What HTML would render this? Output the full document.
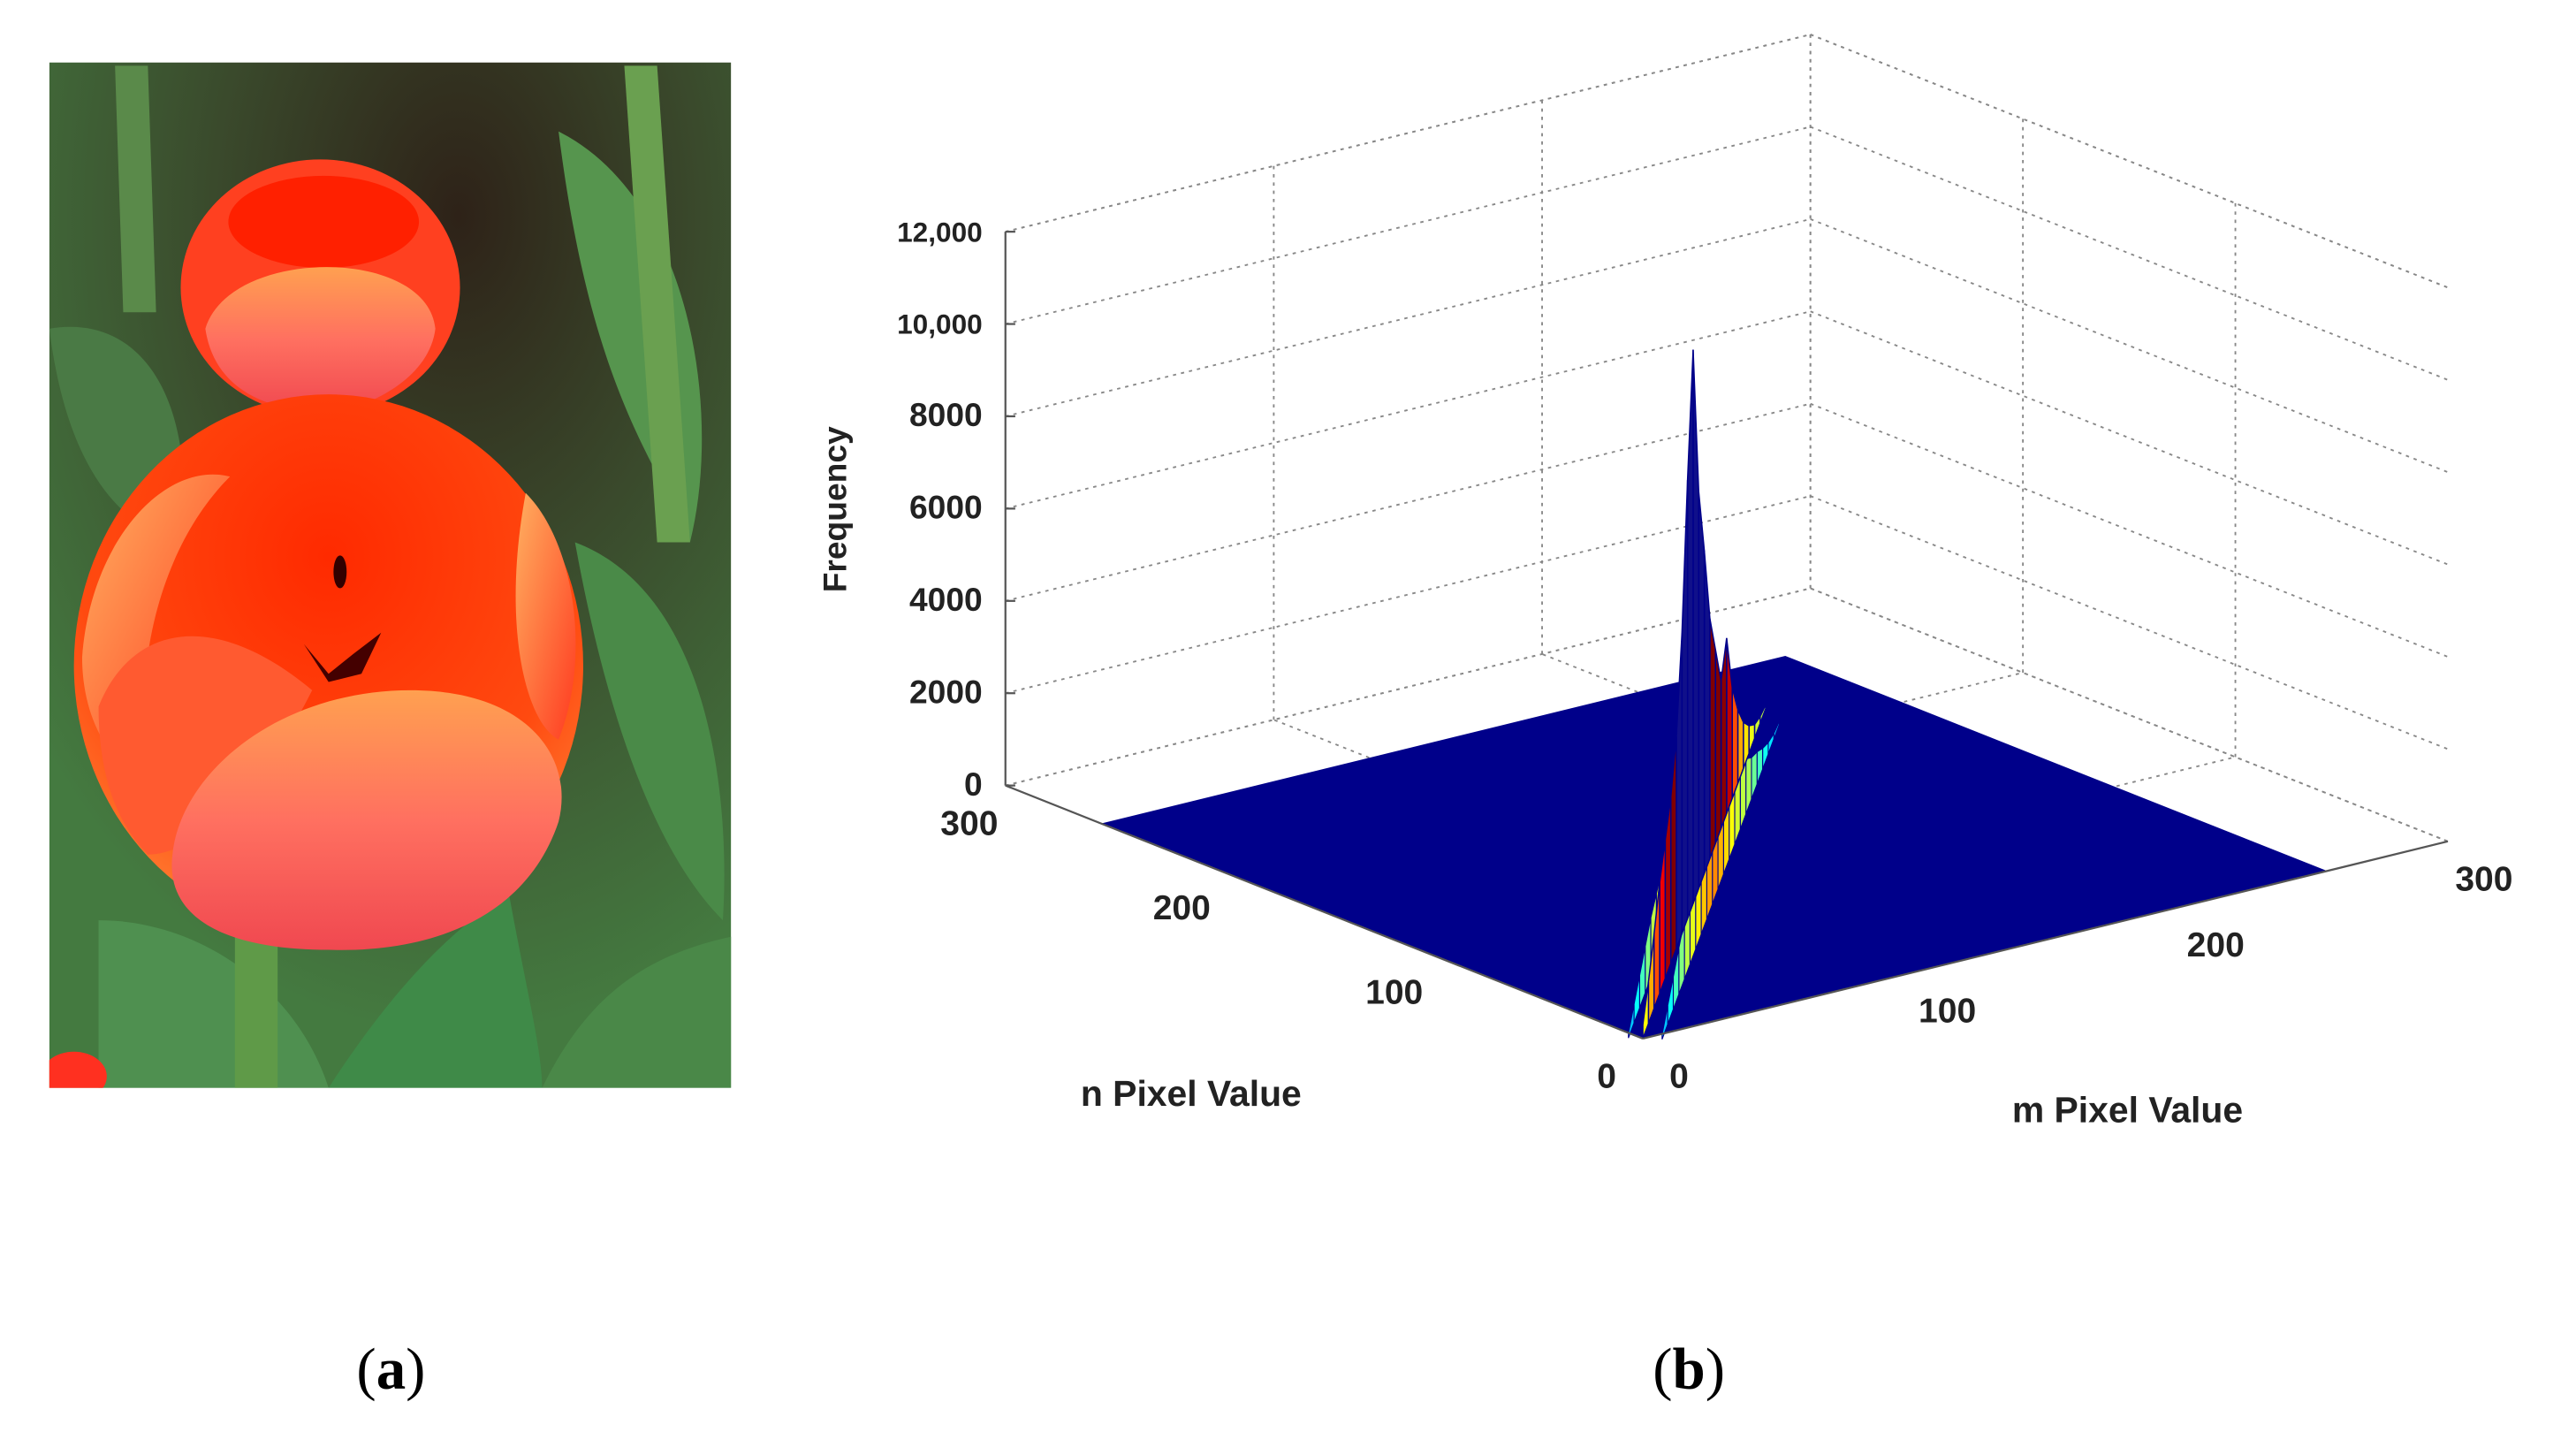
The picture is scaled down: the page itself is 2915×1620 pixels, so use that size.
<!DOCTYPE html>
<html><head><meta charset="utf-8"><style>
html,body{margin:0;padding:0;background:#fff}
svg{display:block}
</style></head><body>
<svg id="fig" width="2915" height="1620" viewBox="0 0 1568 871.4" preserveAspectRatio="none" xmlns="http://www.w3.org/2000/svg">
<defs>
<radialGradient id="bg" cx="0.6" cy="0.15" r="0.8"><stop offset="0" stop-color="#2e2218"/><stop offset="0.45" stop-color="#3a4a2c"/><stop offset="1" stop-color="#447a40"/></radialGradient>
<radialGradient id="petalA" cx="0.5" cy="0.3" r="0.7"><stop offset="0" stop-color="#ff2a00"/><stop offset="0.7" stop-color="#ff4a10"/><stop offset="1" stop-color="#ff7a30"/></radialGradient>
<linearGradient id="petalB" x1="0" y1="0" x2="0" y2="1"><stop offset="0" stop-color="#ffa050"/><stop offset="0.5" stop-color="#ff7060"/><stop offset="1" stop-color="#f04850"/></linearGradient>
<linearGradient id="petalC" x1="0" y1="0" x2="1" y2="1"><stop offset="0" stop-color="#ffb060"/><stop offset="1" stop-color="#ff3a20"/></linearGradient>
<clipPath id="photoClip"><rect x="30" y="38" width="415" height="624"/></clipPath>
</defs>
<g clip-path="url(#photoClip)">
<rect x="30" y="38" width="415" height="624" fill="url(#bg)"/>
<path d="M340,80 C420,120 440,250 420,330 C400,280 360,240 340,80Z" fill="#56954e"/>
<path d="M380,40 L400,40 L420,330 L400,330Z" fill="#6aa050"/>
<path d="M350,330 C430,360 445,480 440,560 C400,520 370,440 350,330Z" fill="#4a8a48"/>
<path d="M30,200 C90,190 120,250 110,330 C70,320 40,280 30,200Z" fill="#4a7a45"/>
<path d="M70,40 L90,40 L95,190 L75,190Z" fill="#5a8a4a"/>
<path d="M60,560 C120,560 180,600 200,662 L60,662Z" fill="#4f9050"/>
<path d="M200,662 C240,600 280,560 310,545 C320,600 330,640 330,662Z" fill="#3f8a48"/>
<path d="M330,662 C360,600 400,580 445,570 L445,662Z" fill="#4a8848"/>
<rect x="143" y="570" width="26" height="92" fill="#5f9a48"/>
<ellipse cx="195" cy="175" rx="85" ry="78" fill="#ff4020"/>
<ellipse cx="197" cy="135" rx="58" ry="28" fill="#ff2000"/>
<path d="M125,200 C140,150 260,150 265,200 C260,240 200,255 195,250 C160,250 130,235 125,200Z" fill="url(#petalB)"/>
<ellipse cx="200" cy="405" rx="155" ry="165" fill="url(#petalA)"/>
<path d="M50,400 C55,330 100,280 140,290 C100,330 80,400 90,470 C70,470 50,440 50,400Z" fill="url(#petalC)"/>
<path d="M320,300 C350,330 360,400 340,450 C320,440 305,380 320,300Z" fill="url(#petalC)"/>
<ellipse cx="207" cy="348" rx="4" ry="10" fill="#300"/>
<path d="M185,392 L200,410 L215,398 L232,385 L220,410 L200,415 Z" fill="#400"/>
<path d="M60,430 C80,380 130,370 190,420 C160,480 120,520 90,520 C70,500 60,470 60,430Z" fill="#ff5a30"/>
<path d="M105,520 C110,470 170,420 250,420 C320,420 350,460 340,500 C320,560 260,580 200,578 C140,578 100,560 105,520Z" fill="url(#petalB)"/>
<ellipse cx="45" cy="655" rx="20" ry="15" fill="#ff3020"/>
</g>
<g id="chart"></g>
<text x="238" y="845" font-family="Liberation Serif, serif" font-size="36" text-anchor="middle">(<tspan font-weight="bold">a</tspan>)</text>
<text x="1028" y="845" font-family="Liberation Serif, serif" font-size="36" text-anchor="middle">(<tspan font-weight="bold">b</tspan>)</text>
</svg>
<script>
const zTicks = [0, 2000, 4000, 6000, 8000, 10000, 12000];
const zTickLabels = ["0", "2000", "4000", "6000", "8000", "10,000", "12,000"];
const nTicks = [0, 100, 200, 300];
const mTicks = [0, 100, 200, 300];
// frequency along diagonal m=n, bins of width 10 starting at 0
const diagBins = [0,10,20,30,40,50,60,70,80,90,100,110,120,130,140,150,160,170,180,190,200,210,220,230,240,250];
const diagFreq = [300,900,1600,2400,3000,3600,4600,6500,9500,12000,8600,7000,5200,4200,3200,3800,2400,1600,1000,600,300,150,80,40,20,10];
// frequency slightly off-diagonal (spread)
const spreadFreq = [100,400,700,1000,1300,1500,1700,1900,2100,2200,2000,1800,1600,1400,1300,1200,900,700,450,250,120,60,30,15,8,4];

const NS = "http://www.w3.org/2000/svg";
const O = [1000, 632], MV = [490/300, -120/300], NV = [-388/300, -154/300], ZS = 337/12000;
function P(m, n, z) { return [O[0] + m*MV[0] + n*NV[0], O[1] + m*MV[1] + n*NV[1] - z*ZS]; }
const g = document.getElementById('chart');
function mk(tag, attrs) { const e = document.createElementNS(NS, tag); for (const k in attrs) e.setAttribute(k, attrs[k]); g.appendChild(e); return e; }
function line(a, b, st) { return mk('line', Object.assign({x1:a[0], y1:a[1], x2:b[0], y2:b[1]}, st)); }
const dot = {stroke:'#888', 'stroke-width':1, 'stroke-dasharray':'2,3', fill:'none'};
function jet(v) { v = Math.max(0, Math.min(1, v)); const r = Math.max(0, Math.min(1, 1.5 - Math.abs(4*v - 3))), gg = Math.max(0, Math.min(1, 1.5 - Math.abs(4*v - 2))), b = Math.max(0, Math.min(1, 1.5 - Math.abs(4*v - 1))); return `rgb(${Math.round(r*255)},${Math.round(gg*255)},${Math.round(b*255)})`; }

zTicks.forEach(z => {
  let e = line(P(0,300,z), P(300,300,z), dot);  
  e = line(P(300,300,z), P(300,0,z), dot);  
});
[100,200,300].forEach(v => {
  let e = line(P(v,300,0), P(v,300,12000), dot);  
  e = line(P(300,v,0), P(300,v,12000), dot);  
  e = line(P(v,0,0), P(v,300,0), dot);  
  e = line(P(0,v,0), P(300,v,0), dot);  
});
let e0 = line(P(0,300,12000), P(300,300,12000), dot);  
e0 = line(P(300,300,12000), P(300,0,12000), dot);  

const fp = [P(0,0,0), P(255,0,0), P(255,255,0), P(0,255,0)];
const plane = mk('polygon', {points: fp.map(p=>p.join(',')).join(' '), fill:'#00008a'});



for (let i = diagBins.length - 2; i >= 0; i--) {
  const a = diagBins[i], b = diagBins[i+1];
  [[4,-4],[-3,3]].forEach(([dm,dn]) => {
    const pts = [P(a+dm,a+dn,0), P(b+dm,b+dn,0), P(b+dm,b+dn,spreadFreq[i+1]), P(a+dm,a+dn,spreadFreq[i])];
    const el = mk('polygon', {points: pts.map(p=>p.join(',')).join(' '), fill: jet(0.3 + spreadFreq[i]/5000), stroke:'#00008a', 'stroke-width':0.6});
    
    
  });
}
for (let i = diagBins.length - 2; i >= 0; i--) {
  const a = diagBins[i], b = diagBins[i+1];
  const pts = [P(a,a,0), P(b,b,0), P(b,b,diagFreq[i+1]), P(a,a,diagFreq[i])];
  const v = (diagFreq[i] + diagFreq[i+1]) / 2;
  const el = mk('polygon', {points: pts.map(p=>p.join(',')).join(' '), fill: v > 5000 ? '#10108a' : jet(0.55 + v/8000), stroke:'#00008a', 'stroke-width':0.8});
  
  
}

const ax = {stroke:'#555', 'stroke-width':1.2};
let a1 = line(P(0,300,0), P(0,300,12000), ax);  
a1 = line(P(0,300,0), P(0,0,0), ax);  
a1 = line(P(0,0,0), P(300,0,0), ax);  

function txt(x, y, s, size, anchor, name) {
  const t = mk('text', {x:x, y:y, 'font-family':'Liberation Sans, Arial, sans-serif', 'font-size':size, 'font-weight':'bold', 'text-anchor':anchor, fill:'#222'});
  t.textContent = s;
  
  
  return t;
}
zTicks.forEach((z,i) => {
  const p = P(0,300,z);
  let tk = line(p, [p[0]+6, p[1]], ax);  
  txt(p[0]-14, p[1]+6, zTickLabels[i], i >= 5 ? 17 : 20, 'end', 'z-tick-label');
});
nTicks.forEach(n => {
  const p = P(0,n,0);
  txt(p[0]-22, p[1]+30, String(n), 21, 'middle', 'n-tick-label');
});
mTicks.forEach(m => {
  const p = P(m,0,0);
  txt(p[0]+22, p[1]+30, String(m), 21, 'middle', 'm-tick-label');
});
txt(725, 673, 'n Pixel Value', 22, 'middle', 'n-axis-title');
txt(1295, 683, 'm Pixel Value', 22, 'middle', 'm-axis-title');
const ft = txt(0, 0, 'Frequency', 20, 'middle', 'z-axis-title');
ft.setAttribute('transform','translate(515,310) rotate(-90)');
</script>
</body></html>
